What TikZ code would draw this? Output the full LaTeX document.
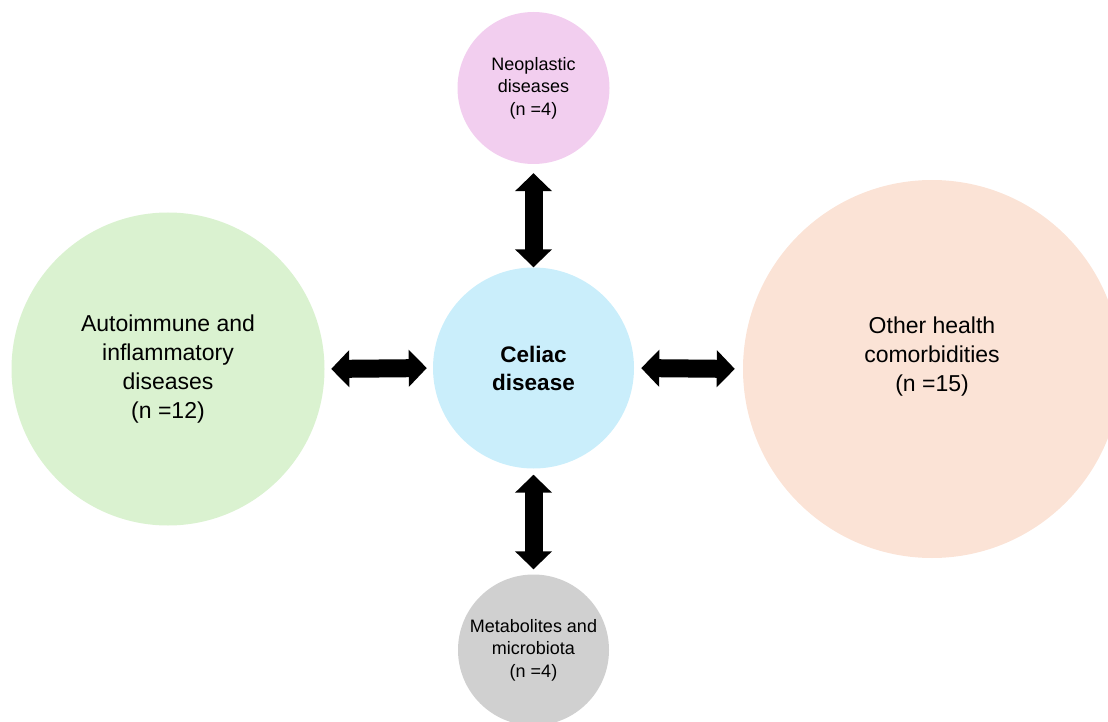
\documentclass[tikz,border=0pt]{standalone}
\usepackage{fontspec}
\setmainfont{Liberation Sans}
\usetikzlibrary{arrows.meta}
\definecolor{celiacblue}{HTML}{CAEEFB}
\definecolor{neopink}{HTML}{F2CEEF}
\definecolor{autogreen}{HTML}{DAF2D0}
\definecolor{otherpeach}{HTML}{FBE3D6}
\definecolor{metagrey}{HTML}{D0D0D0}
\tikzset{
    bubble/.style = {circle, inner sep = 0pt, align = center},
    bigtext/.style = {font = \fontsize{23}{29}\selectfont},
    smalltext/.style = {font = \fontsize{18}{22.5}\selectfont},
    link/.style = {line width = 18pt,
        {Triangle[length = 18pt, width = 36pt]}-{Triangle[length = 18pt, width = 36pt]}}
}
\begin{document}
\begin{tikzpicture}[x = 1pt, y = -1pt]
        \useasboundingbox (0,0) rectangle (1108,722);
        \clip (0,0) rectangle (1108,722);
        \begin{scope}[every node/.append style = {bubble}]
            \node[fill = celiacblue, minimum size = 201pt, font = \fontsize{22.5}{28}\selectfont\bfseries] (celiac) at (533.5,368) {Celiac\\disease};
            \node[fill = neopink, minimum size = 152pt, smalltext] (neo) at (533.5,88) {Neoplastic\\diseases\\(n =4)};
            \node[fill = metagrey, minimum size = 151pt, smalltext] (meta) at (533.5,650) {Metabolites and\\microbiota\\(n =4)};
            \node[fill = autogreen, minimum size = 313pt, bigtext] (auto) at (168,369) {Autoimmune and\\inflammatory\\diseases\\(n =12)};
            \node[fill = otherpeach, minimum size = 378pt, bigtext] (other) at (932,369) {Other health\\comorbidities\\(n =15)\\\mbox{}};
        \end{scope}
        \draw[link, shorten < = 6.5pt, shorten > = 6pt] (auto.east) -- (celiac.west);
        \draw[link, shorten < = 7pt, shorten > = 8pt] (celiac.east) -- (other.west);
        \draw[link, shorten < = 0pt, shorten > = 9pt] (celiac.north) -- (neo.south);
        \draw[link, shorten < = 6pt, shorten > = 5pt] (celiac.south) -- (meta.north);
    \end{tikzpicture}
\end{document}
